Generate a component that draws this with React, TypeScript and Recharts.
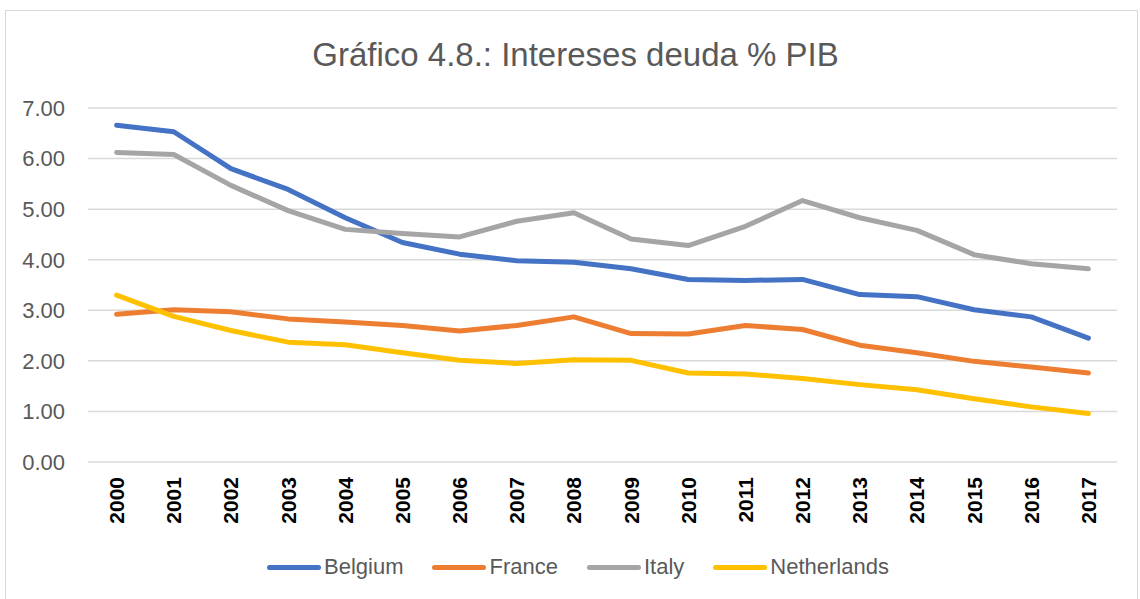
import { CartesianGrid, Line, LineChart, XAxis, YAxis } from "recharts";

const years = [
  "2000", "2001", "2002", "2003", "2004", "2005", "2006", "2007", "2008",
  "2009", "2010", "2011", "2012", "2013", "2014", "2015", "2016", "2017",
];
const belgium = [6.66, 6.53, 5.8, 5.39, 4.83, 4.34, 4.11, 3.98, 3.95, 3.82, 3.61, 3.59, 3.61, 3.31, 3.27, 3.01, 2.87, 2.45];
const france = [2.92, 3.01, 2.97, 2.83, 2.77, 2.7, 2.59, 2.7, 2.87, 2.54, 2.53, 2.7, 2.62, 2.31, 2.16, 1.99, 1.88, 1.76];
const italy = [6.12, 6.08, 5.47, 4.97, 4.6, 4.52, 4.45, 4.76, 4.93, 4.41, 4.28, 4.66, 5.17, 4.83, 4.58, 4.1, 3.92, 3.82];
const netherlands = [3.3, 2.88, 2.6, 2.37, 2.32, 2.16, 2.01, 1.95, 2.02, 2.01, 1.76, 1.74, 1.65, 1.53, 1.43, 1.25, 1.09, 0.96];
const yTicks = [0, 1, 2, 3, 4, 5, 6, 7];

const series = [
  { key: "Belgium", color: "#4472C4", values: belgium },
  { key: "France", color: "#ED7D31", values: france },
  { key: "Italy", color: "#A5A5A5", values: italy },
  { key: "Netherlands", color: "#FFC000", values: netherlands },
];

const data = years.map((year, i) => {
  const row: Record<string, string | number> = { year };
  series.forEach((s) => (row[s.key] = s.values[i]));
  return row;
});

const font = "'Liberation Sans', Arial, sans-serif";

function YearTick(props: any) {
  const { x, y, payload } = props;
  const ty = y + 7;
  return (
    <text
      x={x}
      y={ty}
      transform={`rotate(-90 ${x} ${ty})`}
      textAnchor="end"
      dy="0.36em"
      fontFamily={font}
      fontWeight="bold"
      fontSize={21}
      fill="#000000"
    >
      {payload.value}
    </text>
  );
}

export default function App() {
  return (
    <div
      style={{
        position: "absolute",
        left: 0,
        top: 0,
        width: 1140,
        height: 599,
        background: "#ffffff",
        overflow: "hidden",
        fontFamily: font,
      }}
    >
      <div
        style={{
          position: "absolute",
          left: 5,
          top: 10,
          width: 1131,
          height: 600,
          border: "1px solid #d9d9d9",
        }}
      />
      <div
        style={{
          position: "absolute",
          left: 0,
          top: 36,
          width: 1151,
          textAlign: "center",
          fontSize: 33,
          color: "#595959",
        }}
      >
        Gráfico 4.8.: Intereses deuda % PIB
      </div>
      <div style={{ position: "absolute", left: 0, top: 0 }}>
        <LineChart
          width={1140}
          height={599}
          data={data}
          margin={{ top: 108, right: 23, bottom: 67, left: 0 }}
        >
          <CartesianGrid vertical={false} stroke="#d9d9d9" strokeWidth={1.5} />
          <XAxis
            dataKey="year"
            axisLine={false}
            tickLine={false}
            interval={0}
            height={70}
            padding={{ left: 28.6, right: 28.6 }}
            tick={<YearTick />}
          />
          <YAxis
            width={88}
            domain={[0, 7]}
            ticks={yTicks}
            axisLine={false}
            tickLine={false}
            tickMargin={17}
            tickFormatter={(v: number) => v.toFixed(2)}
            tick={{ fontSize: 22, fill: "#595959", fontFamily: font }}
          />
          {series.map((s) => (
            <Line
              key={s.key}
              dataKey={s.key}
              stroke={s.color}
              strokeWidth={5}
              strokeLinecap="round"
              strokeLinejoin="round"
              dot={false}
              activeDot={false}
              isAnimationActive={false}
            />
          ))}
        </LineChart>
      </div>
      <div
        style={{
          position: "absolute",
          left: 267,
          top: 554,
          display: "flex",
          alignItems: "center",
          gap: 29,
          fontSize: 22,
          color: "#595959",
        }}
      >
        {series.map((s) => (
          <div key={s.key} style={{ display: "flex", alignItems: "center" }}>
            <span
              style={{
                display: "inline-block",
                width: 54,
                height: 5,
                borderRadius: 3,
                background: s.color,
                marginRight: 3,
              }}
            />
            <span>{s.key}</span>
          </div>
        ))}
      </div>
    </div>
  );
}
